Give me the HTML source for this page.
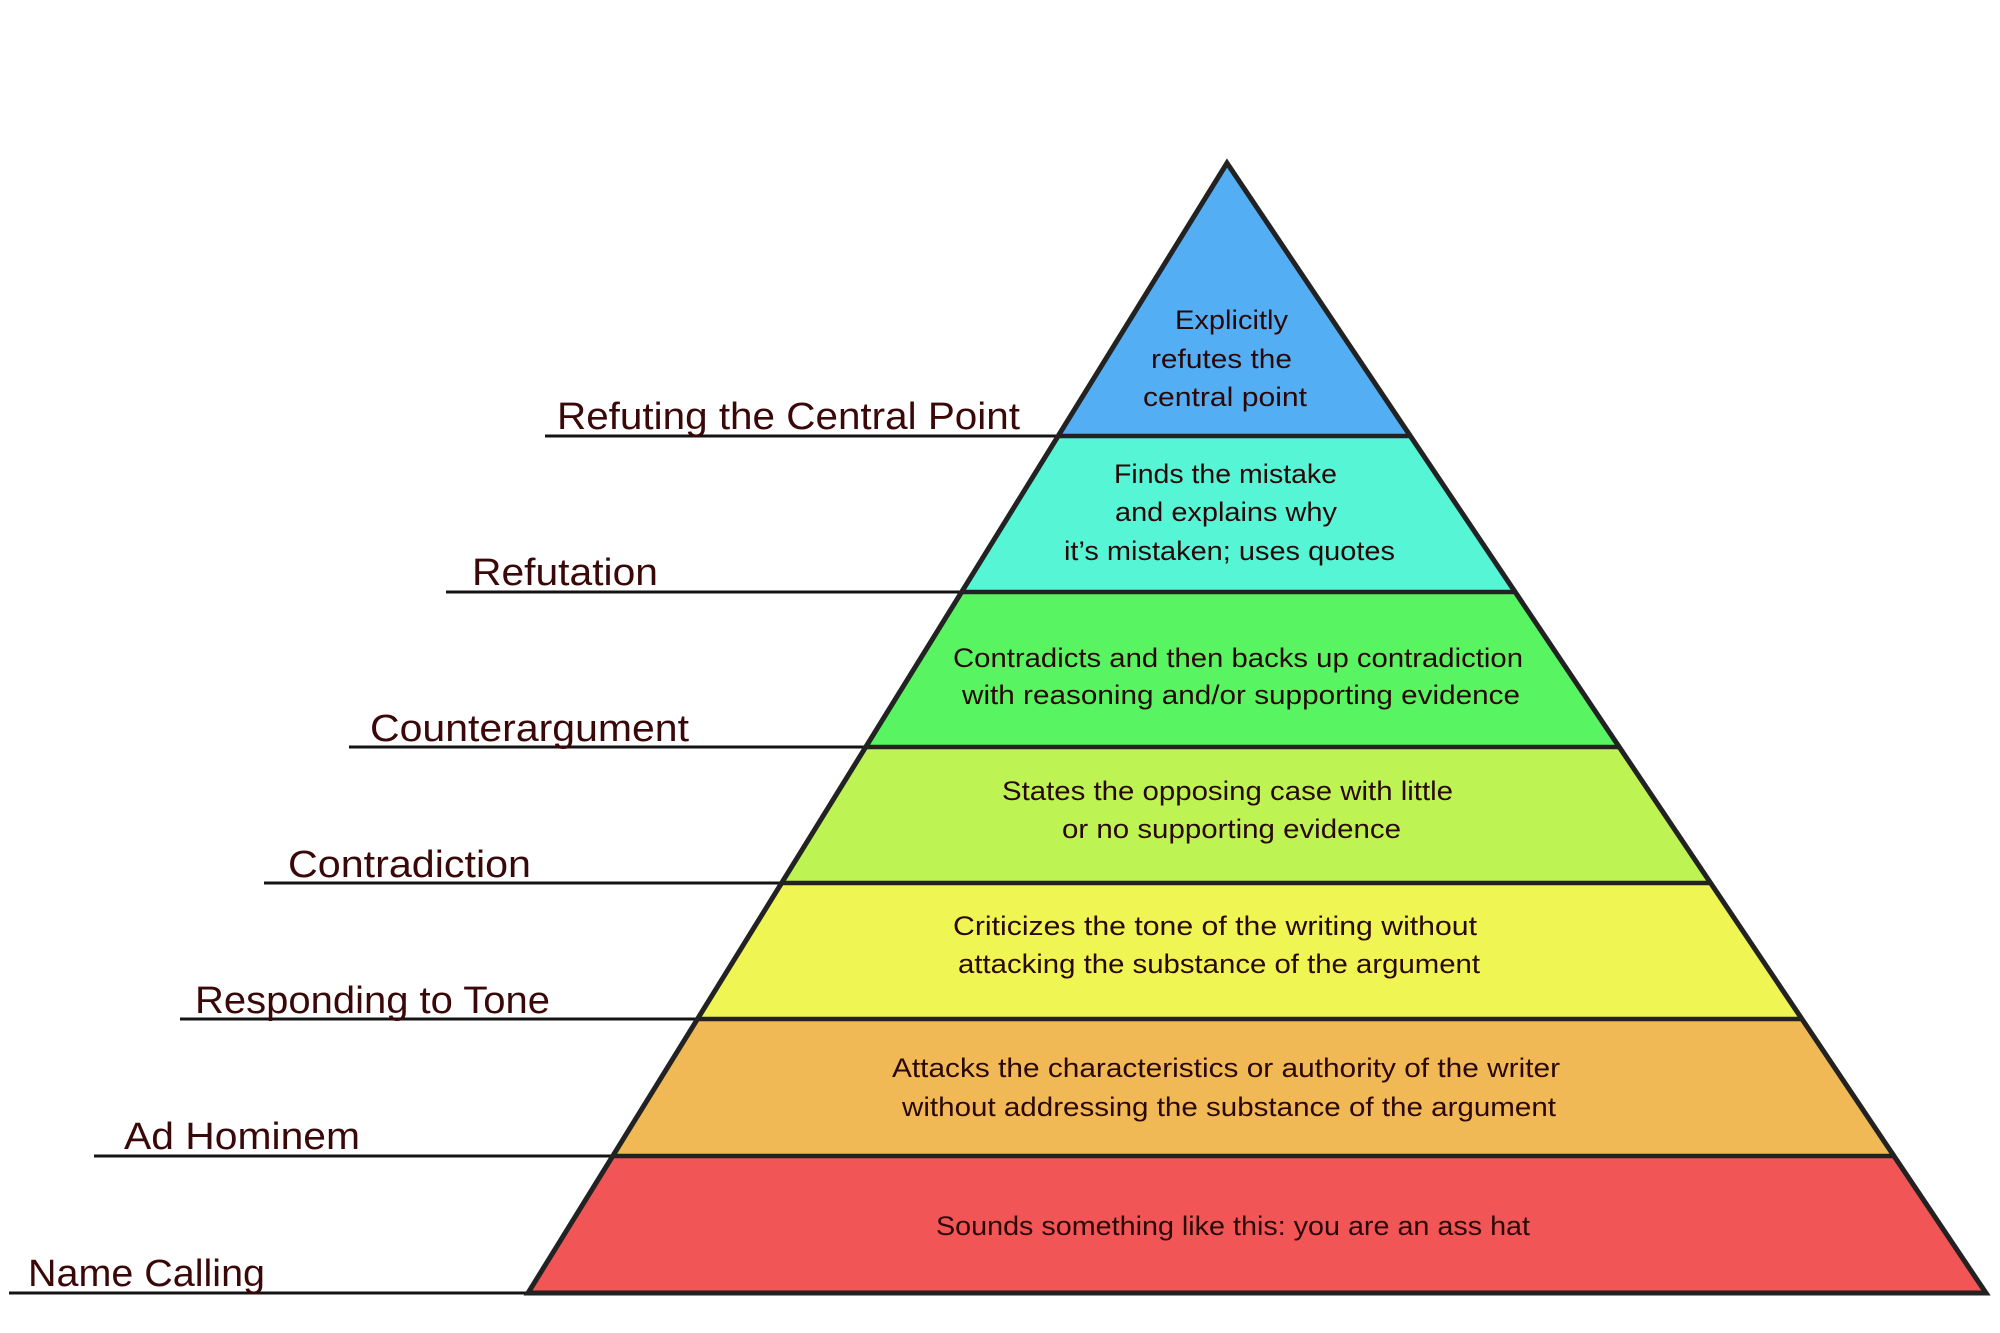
<!DOCTYPE html>
<html>
<head>
<meta charset="utf-8">
<style>
  html, body { margin: 0; padding: 0; background: #ffffff; }
  body { width: 2000px; height: 1333px; overflow: hidden; }
  svg { display: block; }
  .lbl { font-family: "Liberation Sans", Arial, sans-serif; font-size: 38px; fill: #3a0808; }
  .t { font-family: "Liberation Sans", Arial, sans-serif; font-size: 27px; fill: #2a0808; }
</style>
</head>
<body>
<svg width="2000" height="1333" viewBox="0 0 2000 1333" xmlns="http://www.w3.org/2000/svg">
  <rect x="0" y="0" width="2000" height="1333" fill="#ffffff"/>

  <!-- tier fills -->
  <polygon points="1227,163 1410,436 1058,436" fill="#54aef3"/>
  <polygon points="1058,436 1410,436 1515,592 962,592" fill="#56f5d6"/>
  <polygon points="962,592 1515,592 1619,747 866,747" fill="#59f462"/>
  <polygon points="866,747 1619,747 1711,883 782,883" fill="#bef354"/>
  <polygon points="782,883 1711,883 1802,1019 697,1019" fill="#eff553"/>
  <polygon points="697,1019 1802,1019 1894,1156 613,1156" fill="#f1b955"/>
  <polygon points="613,1156 1894,1156 1986,1293 528,1293" fill="#f25556"/>

  <!-- label lines (thin, left part) -->
  <g stroke="#141414" stroke-width="3" fill="none">
    <line x1="545" y1="436" x2="1058" y2="436"/>
    <line x1="446" y1="592" x2="962" y2="592"/>
    <line x1="349" y1="747" x2="866" y2="747"/>
    <line x1="264" y1="883" x2="782" y2="883"/>
    <line x1="180" y1="1019" x2="697" y2="1019"/>
    <line x1="94" y1="1156" x2="613" y2="1156"/>
    <line x1="9" y1="1293" x2="528" y2="1293"/>
  </g>

  <!-- tier dividers inside pyramid -->
  <g stroke="#222222" stroke-width="4.5" fill="none">
    <line x1="1058" y1="436" x2="1410" y2="436"/>
    <line x1="962" y1="592" x2="1515" y2="592"/>
    <line x1="866" y1="747" x2="1619" y2="747"/>
    <line x1="782" y1="883" x2="1711" y2="883"/>
    <line x1="697" y1="1019" x2="1802" y2="1019"/>
    <line x1="613" y1="1156" x2="1894" y2="1156"/>
  </g>

  <!-- pyramid outline -->
  <polygon points="1227,163 1986,1293 528,1293" fill="none" stroke="#222222" stroke-width="5" stroke-linejoin="miter"/>

  <!-- left labels -->
  <text class="lbl" x="557" y="429" textLength="463" lengthAdjust="spacingAndGlyphs">Refuting the Central Point</text>
  <text class="lbl" x="472" y="585" textLength="186" lengthAdjust="spacingAndGlyphs">Refutation</text>
  <text class="lbl" x="370" y="741" textLength="319" lengthAdjust="spacingAndGlyphs">Counterargument</text>
  <text class="lbl" x="288" y="877" textLength="243" lengthAdjust="spacingAndGlyphs">Contradiction</text>
  <text class="lbl" x="195" y="1013" textLength="355" lengthAdjust="spacingAndGlyphs">Responding to Tone</text>
  <text class="lbl" x="124" y="1149" textLength="236" lengthAdjust="spacingAndGlyphs">Ad Hominem</text>
  <text class="lbl" x="28" y="1286" textLength="237" lengthAdjust="spacingAndGlyphs">Name Calling</text>

  <!-- tier texts -->
  <text class="t" x="1175" y="329" textLength="113" lengthAdjust="spacingAndGlyphs">Explicitly</text>
  <text class="t" x="1151" y="368" textLength="141" lengthAdjust="spacingAndGlyphs">refutes the</text>
  <text class="t" x="1143" y="406" textLength="164" lengthAdjust="spacingAndGlyphs">central point</text>

  <text class="t" x="1114" y="483" textLength="223" lengthAdjust="spacingAndGlyphs">Finds the mistake</text>
  <text class="t" x="1115" y="521" textLength="222" lengthAdjust="spacingAndGlyphs">and explains why</text>
  <text class="t" x="1064" y="560" textLength="331" lengthAdjust="spacingAndGlyphs">it’s mistaken; uses quotes</text>

  <text class="t" x="953" y="667" textLength="570" lengthAdjust="spacingAndGlyphs">Contradicts and then backs up contradiction</text>
  <text class="t" x="962" y="704" textLength="558" lengthAdjust="spacingAndGlyphs">with reasoning and/or supporting evidence</text>

  <text class="t" x="1002" y="800" textLength="451" lengthAdjust="spacingAndGlyphs">States the opposing case with little</text>
  <text class="t" x="1062" y="838" textLength="339" lengthAdjust="spacingAndGlyphs">or no supporting evidence</text>

  <text class="t" x="953" y="935" textLength="524" lengthAdjust="spacingAndGlyphs">Criticizes the tone of the writing without</text>
  <text class="t" x="958" y="973" textLength="522" lengthAdjust="spacingAndGlyphs">attacking the substance of the argument</text>

  <text class="t" x="892" y="1077" textLength="668" lengthAdjust="spacingAndGlyphs">Attacks the characteristics or authority of the writer</text>
  <text class="t" x="902" y="1116" textLength="654" lengthAdjust="spacingAndGlyphs">without addressing the substance of the argument</text>

  <text class="t" x="936" y="1235" textLength="594" lengthAdjust="spacingAndGlyphs">Sounds something like this: you are an ass hat</text>
</svg>
</body>
</html>
